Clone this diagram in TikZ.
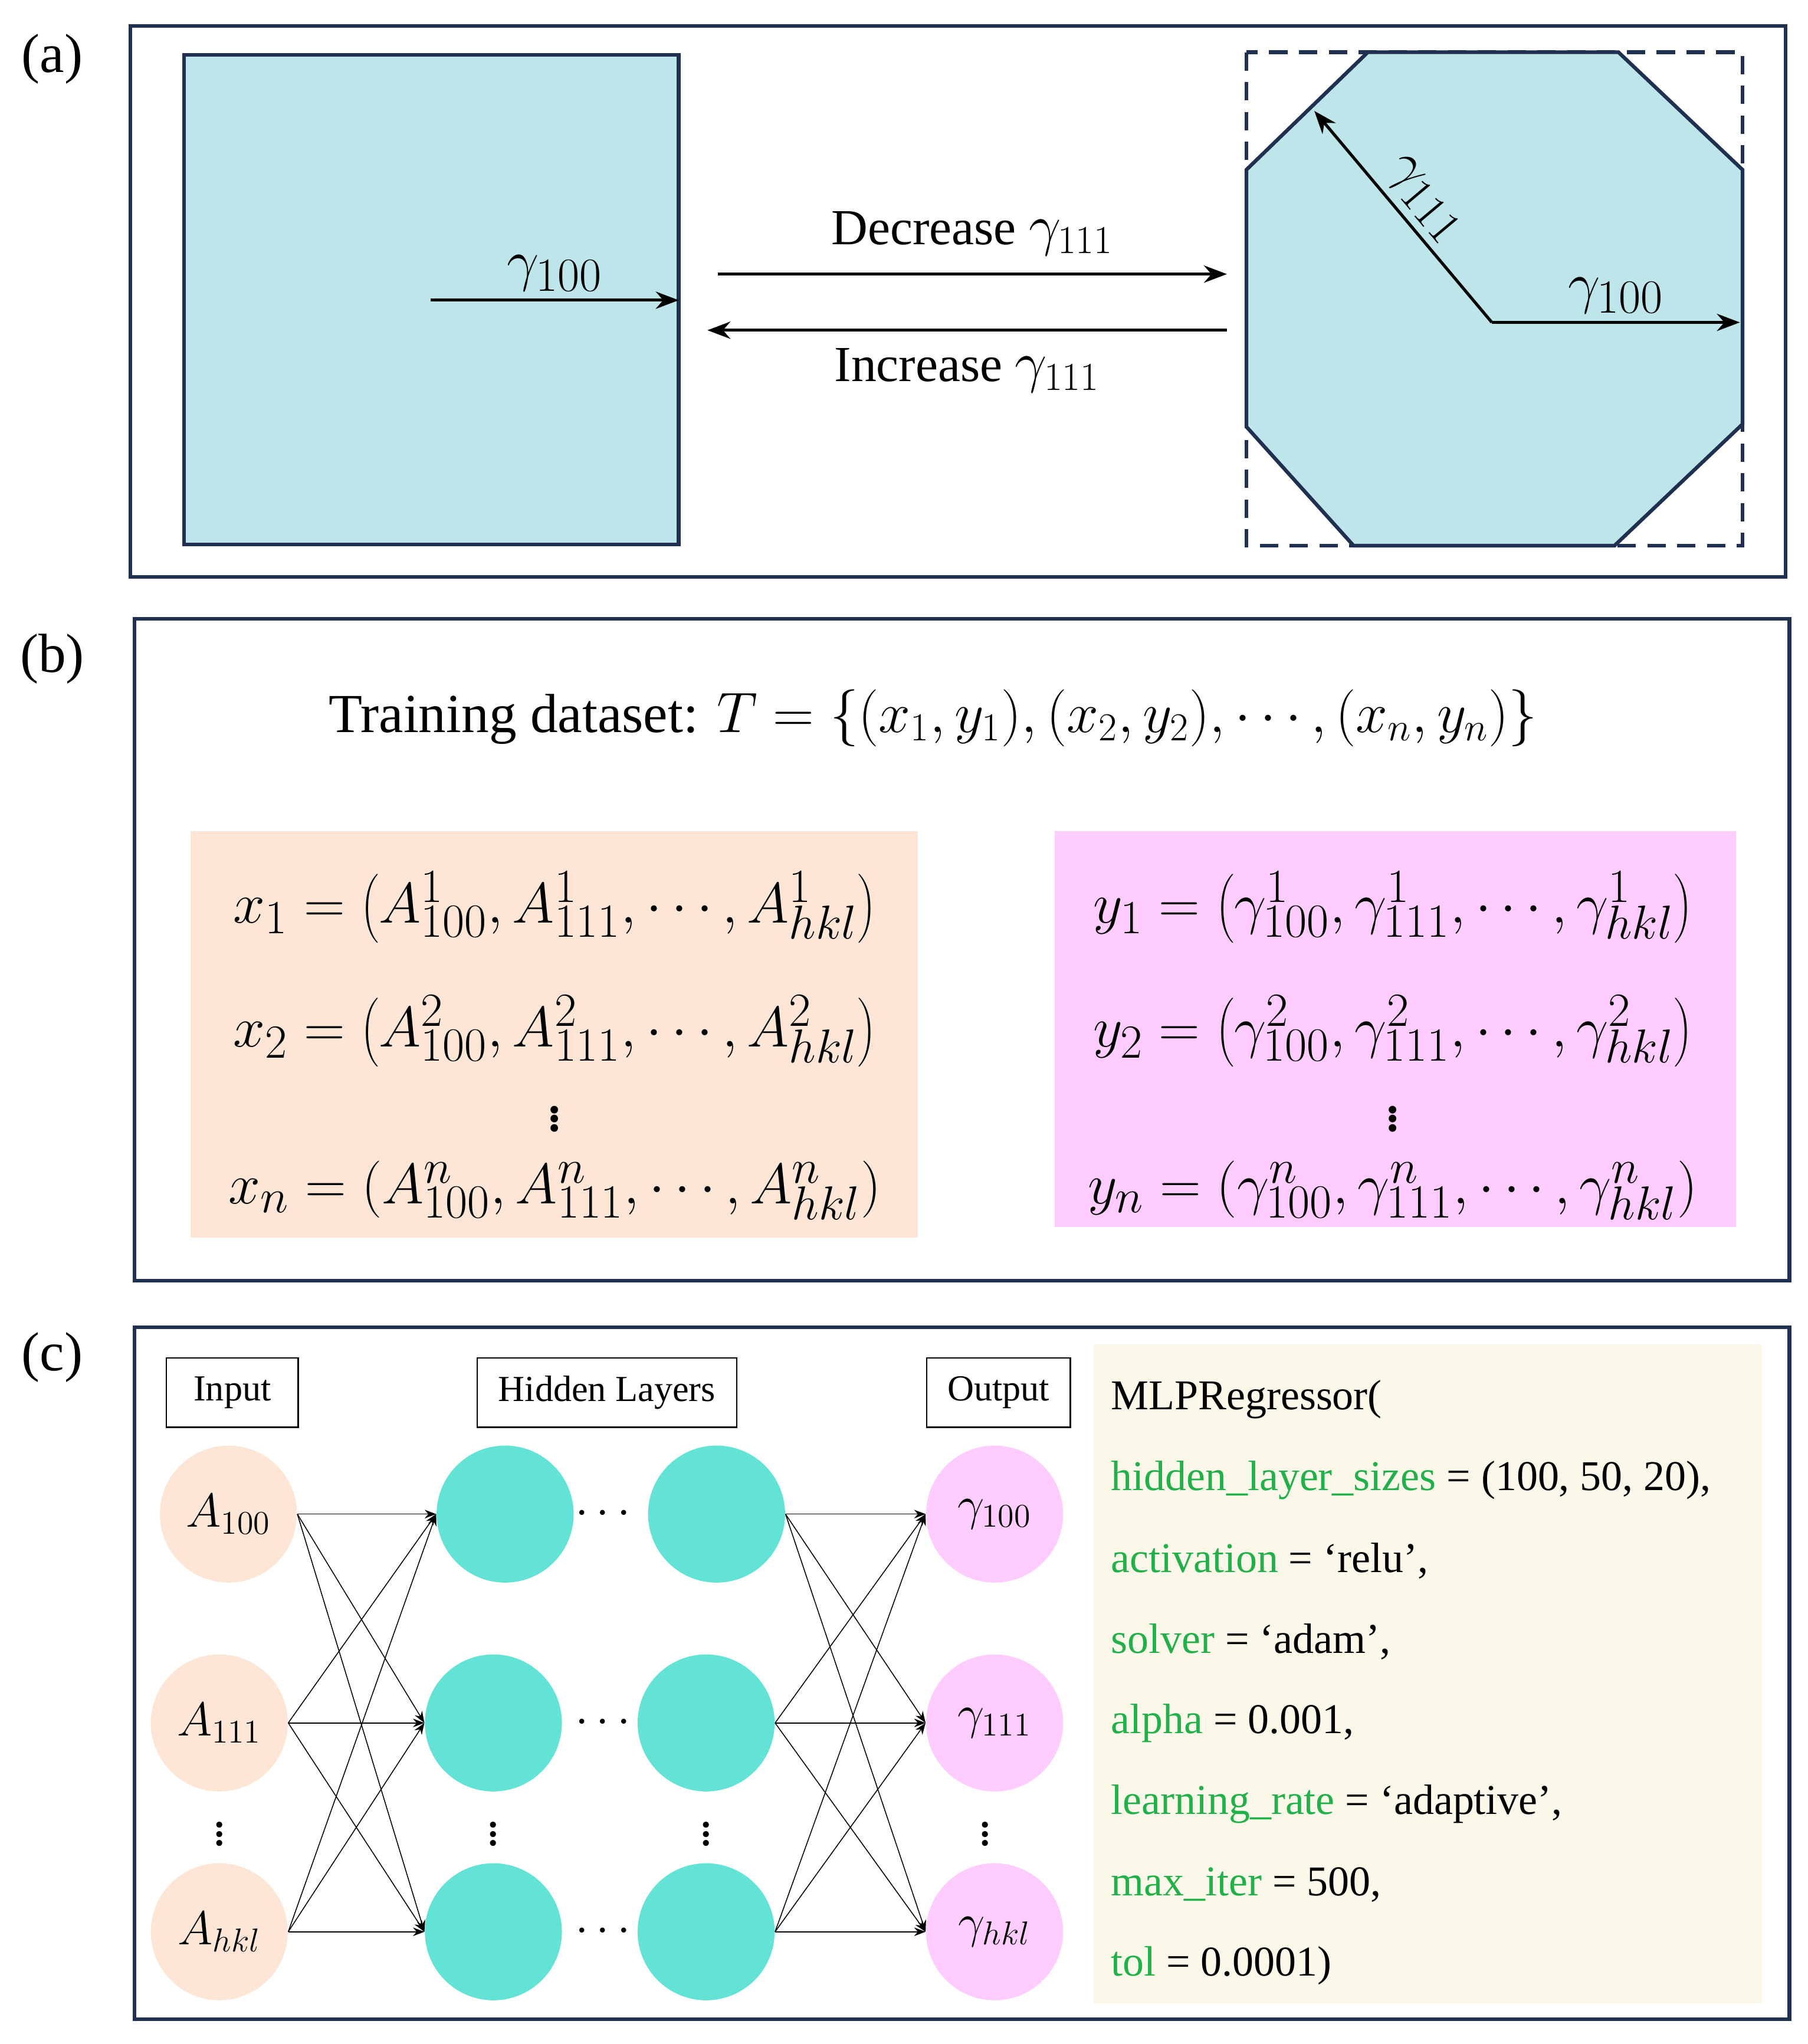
\documentclass[tikz,border=0pt]{standalone}
\usepackage{fontspec}
\setmainfont{Liberation Serif}
\usetikzlibrary{arrows.meta}
\definecolor{navy}{HTML}{1F3050}
\definecolor{cyanfill}{HTML}{BDE5EA}
\definecolor{peach}{HTML}{FDE6D6}
\definecolor{pinkfill}{HTML}{FFCCFF}
\definecolor{teal}{HTML}{63E3D6}
\definecolor{cream}{HTML}{FBF7E9}
\definecolor{codegreen}{HTML}{22B04A}
\begin{document}
\begin{tikzpicture}[x=0.02cm, y=-0.02cm,
    panel/.style={draw=navy, line width=1.6pt},
    tag/.style={font=\fontsize{24}{28}\selectfont},
    arr/.style={-{Stealth[length=10pt]}, line width=1.3pt},
    big/.style={font=\fontsize{22}{26}\selectfont},
    gam/.style={font=\fontsize{28}{32}\selectfont},
    huge/.style={font=\fontsize{28}{32}\selectfont},
    lab/.style={draw, line width=0.6pt, minimum width=#1, minimum height=1.06cm, font=\fontsize{16}{19}\selectfont},
    neuron/.style={circle, fill=#1, minimum size=2.1cm, inner sep=0pt, font=\fontsize{22}{26}\selectfont},
    link/.style={-{Stealth[length=5pt]}, line width=0.4pt},
    code/.style={anchor=west, font=\fontsize{18.5}{22}\selectfont}
]
\useasboundingbox (0,0) rectangle (1385,1566);
% (a)
\node[tag] (ta) at (40,45) {(a)};
\draw[panel] (100,20) rectangle (1368,442);
\draw[panel, fill=cyanfill] (141,42) rectangle (520,417);
\coordinate (sqc) at (330,230);
\coordinate (sqr) at (520,230);
\draw[arr] (sqc) -- (sqr) node[midway, above, gam] {$\gamma_{100}$};
\coordinate (d1) at (550,210); \coordinate (d2) at (940,210);
\coordinate (i1) at (940,253); \coordinate (i2) at (542,253);
\draw[arr] (d1) -- (d2) node[midway, above=4pt, big] {Decrease {\fontsize{26}{30}\selectfont$\gamma_{111}$}};
\draw[arr] (i1) -- (i2) node[midway, below=4pt, big] {Increase {\fontsize{26}{30}\selectfont$\gamma_{111}$}};
\draw[navy, dash pattern=on 8pt off 5pt, line width=1.6pt] (955,40) rectangle (1335,418);
\draw[panel, fill=cyanfill] (1048,40) -- (1240,40) -- (1335,130) -- (1335,325) -- (1237,418) -- (1037,418) -- (955,327) -- (955,130) -- cycle;
\coordinate (oc) at (1143,247);
\coordinate (or) at (1333,247);
\coordinate (ou) at (1007,85);
\draw[arr] (oc) -- (or) node[midway, above, gam] {$\gamma_{100}$};
\draw[arr] (oc) -- (ou) node[midway, above, sloped, gam] {$\gamma_{111}$};
% (b)
\node[tag] (tb) at (40,505) {(b)};
\draw[panel] (103,474) rectangle (1371,981);
\node[font=\fontsize{24}{28}\selectfont] (title) at (715,550) {Training dataset: $T=\{(x_1,y_1),(x_2,y_2),\cdots,(x_n,y_n)\}$};
\fill[peach] (146,637) rectangle (703,948);
\fill[pinkfill] (808,637) rectangle (1330,940);
\node[huge] (x1) at (425,695) {$x_1=\left(A^1_{100},A^1_{111},\cdots,A^1_{hkl}\right)$};
\node[huge] (x2) at (425,790) {$x_2=\left(A^2_{100},A^2_{111},\cdots,A^2_{hkl}\right)$};
\node[huge] (xd) at (425,852) {$\vdots$};
\node[huge] (xn) at (425,912) {$x_n=(A^n_{100},A^n_{111},\cdots,A^n_{hkl})$};
\node[huge] (y1) at (1067,695) {$y_1=\left(\gamma^1_{100},\gamma^1_{111},\cdots,\gamma^1_{hkl}\right)$};
\node[huge] (y2) at (1067,790) {$y_2=\left(\gamma^2_{100},\gamma^2_{111},\cdots,\gamma^2_{hkl}\right)$};
\node[huge] (yd) at (1067,852) {$\vdots$};
\node[huge] (yn) at (1067,912) {$y_n=(\gamma^n_{100},\gamma^n_{111},\cdots,\gamma^n_{hkl})$};
% (c)
\node[tag] (tc) at (40,1040) {(c)};
\draw[panel] (103,1017) rectangle (1371,1547);
\node[lab=2.02cm] (lin) at (178,1067) {Input};
\node[lab=3.98cm] (lhid) at (465,1067) {Hidden Layers};
\node[lab=2.2cm] (lout) at (765,1067) {Output};
\node[neuron=peach] (a1) at (175,1160) {$A_{100}$};
\node[neuron=peach] (a2) at (168,1320) {$A_{111}$};
\node[neuron=peach] (a3) at (168,1480) {$A_{hkl}$};
\node[neuron=teal] (h1) at (387,1160) {};
\node[neuron=teal] (h2) at (378,1320) {};
\node[neuron=teal] (h3) at (378,1480) {};
\node[neuron=teal] (k1) at (549,1160) {};
\node[neuron=teal] (k2) at (541,1320) {};
\node[neuron=teal] (k3) at (541,1480) {};
\node[neuron=pinkfill] (g1) at (762,1160) {$\gamma_{100}$};
\node[neuron=pinkfill] (g2) at (762,1320) {$\gamma_{111}$};
\node[neuron=pinkfill] (g3) at (762,1480) {$\gamma_{hkl}$};
\foreach \y in {1160,1320,1480} \node[big] at (462,\y) {$\cdots$};
\foreach \x in {168,378,541,755} \node[big] at (\x,1400) {$\vdots$};
\foreach \i in {1,2,3} \foreach \j in {1,2,3} {
    \draw[link] (a\i.east) -- (h\j.west);
    \draw[link] (k\i.east) -- (g\j.west);
}
\fill[cream] (838,1030) rectangle (1350,1535);
\node[code] (c1) at (845,1072) {MLPRegressor(};
\node[code] (c2) at (845,1134) {\textcolor{codegreen}{hidden\_layer\_sizes} = (100, 50, 20),};
\node[code] (c3) at (845,1196) {\textcolor{codegreen}{activation} = ‘relu’,};
\node[code] (c4) at (845,1258) {\textcolor{codegreen}{solver} = ‘adam’,};
\node[code] (c5) at (845,1320) {\textcolor{codegreen}{alpha} = 0.001,};
\node[code] (c6) at (845,1382) {\textcolor{codegreen}{learning\_rate} = ‘adaptive’,};
\node[code] (c7) at (845,1444) {\textcolor{codegreen}{max\_iter} = 500,};
\node[code] (c8) at (845,1506) {\textcolor{codegreen}{tol} = 0.0001)};
\end{tikzpicture}
\end{document}
